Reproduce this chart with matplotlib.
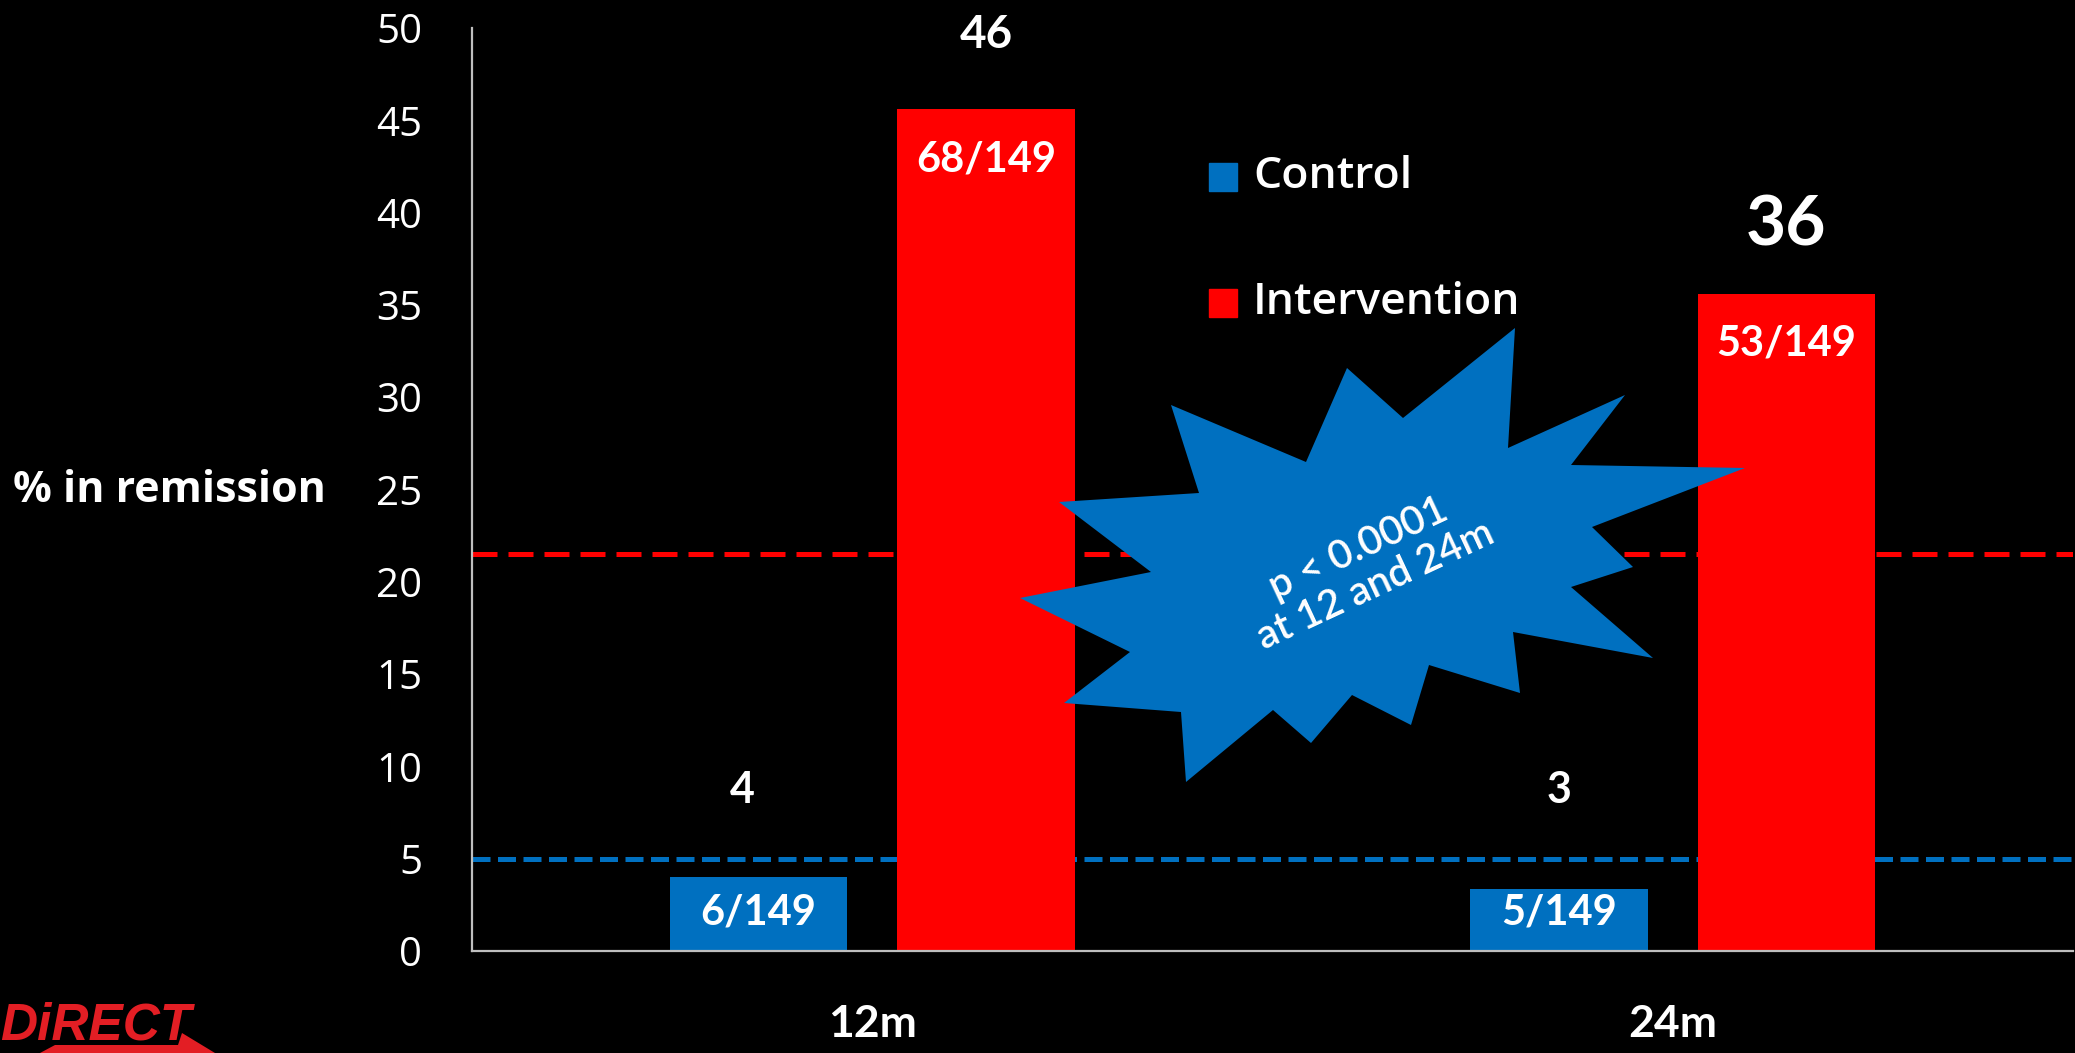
import matplotlib
matplotlib.use("Agg")
import matplotlib.pyplot as plt
from matplotlib.patches import Polygon, Rectangle

# data
periods = ["12m", "24m"]
groups = ["Control", "Intervention"]
control_pct = [4.03, 3.36]
intervention_pct = [45.6, 35.6]
control_rounded = ["4", "3"]
intervention_rounded = ["46", "36"]
control_counts = ["6/149", "5/149"]
intervention_counts = ["68/149", "53/149"]
control_ref = 5.0
intervention_ref = 21.5
yticks = [0, 5, 10, 15, 20, 25, 30, 35, 40, 45, 50]

BLUE = "#0070C0"
RED = "#FF0000"
W, H = 2075, 1053

plt.rcParams["font.family"] = ["Lato", "DejaVu Sans"]
WIDE = ["Open Sans", "DejaVu Sans"]

fig = plt.figure(figsize=(W / 100, H / 100), dpi=100, facecolor="black")
ax = fig.add_axes([472 / W, 102 / H, (2073 - 472) / W, 923 / H], facecolor="black")

x = [0, 1]
width = 0.222
off = 0.142
cx = [i - off for i in x]
ix = [i + off for i in x]

ax.axhline(control_ref, color=BLUE, lw=3.6, dashes=(3.6, 1.5), zorder=1)
ax.axhline(intervention_ref, color=RED, lw=3.6, dashes=(5.0, 2.2), zorder=1)

ax.bar(cx, control_pct, width, color=BLUE, zorder=2)
ax.bar(ix, intervention_pct, width, color=RED, zorder=2)

# labels on bars
for i in range(2):
    ax.text(cx[i] - 0.02 * (1 - i), 8.7, control_rounded[i], ha="center", va="center",
            color="white", fontsize=31, fontweight="bold", zorder=5)
    ax.text(cx[i], 2.1, control_counts[i], ha="center", va="center",
            color="white", fontsize=30, fontweight="bold", zorder=5)
    ax.text(ix[i], intervention_pct[i] - 2.7, intervention_counts[i], ha="center",
            va="center", color="white", fontsize=30, fontweight="bold", zorder=5)
ax.text(ix[0], intervention_pct[0] + 4.0, intervention_rounded[0], ha="center",
        va="center", color="white", fontsize=33, fontweight="bold", zorder=5)
ax.text(ix[1], intervention_pct[1] + 3.7, intervention_rounded[1], ha="center",
        va="center", color="white", fontsize=50, fontweight="bold", zorder=5)

ax.set_xlim(-0.5, 1.5)
ax.set_ylim(0, 50)
ax.set_yticks(yticks)
ax.set_yticklabels([str(t) for t in yticks], color="white", fontsize=29, family=WIDE)
ax.set_xticks(x)
ax.set_xticklabels(periods, color="white", fontsize=32, fontweight="bold")
ax.tick_params(axis="y", length=0, pad=36)
ax.tick_params(axis="x", length=0, pad=38)
for s in ["top", "right"]:
    ax.spines[s].set_visible(False)
for s in ["left", "bottom"]:
    ax.spines[s].set_color("#BFBFBF")
    ax.spines[s].set_linewidth(1.6)

fig.text(13 / W, 1 - 490 / H, "% in remission", ha="left", va="center",
         color="white", fontsize=31, fontweight="bold", family=WIDE)

# legend
for k, (lab, col) in enumerate(zip(groups, [BLUE, RED])):
    yc = [177, 303][k]
    fig.add_artist(Rectangle((1209 / W, 1 - (yc + 14) / H), 28 / W, 28 / H,
                             transform=fig.transFigure, color=col))
    fig.text(1253 / W, 1 - yc / H, lab, ha="left", va="center", color="white",
             fontsize=32, fontweight="semibold", family=WIDE)

# starburst annotation
star = [(1515, 328), (1508, 448), (1625, 395), (1571, 465), (1745, 468),
        (1592, 527), (1633, 567), (1571, 587), (1653, 658), (1513, 632),
        (1520, 693), (1429, 665), (1411, 725), (1352, 695), (1311, 743),
        (1273, 710), (1186, 782), (1181, 712), (1064, 703), (1130, 652),
        (1020, 598), (1151, 572), (1059, 502), (1199, 493), (1171, 405),
        (1306, 462), (1347, 368), (1403, 418)]
fig.add_artist(Polygon([(px / W, 1 - py / H) for px, py in star], closed=True,
                       transform=fig.transFigure, facecolor=BLUE, edgecolor="none",
                       zorder=3))
fig.text(1367 / W, 1 - 567 / H, "p < 0.0001\nat 12 and 24m", ha="center",
         va="center", rotation=25, rotation_mode="anchor", color="white",
         fontsize=29, fontweight="semibold", linespacing=1.15, zorder=4)

# logo
fig.add_artist(Polygon([(40 / W, 0), (55 / W, 8 / H), (178 / W, 8 / H),
                        (182 / W, 20 / H), (215 / W, 0)], closed=True,
                       transform=fig.transFigure, facecolor="#E31E24",
                       edgecolor="none"))
fig.text(0, 1 - 1026 / H, "DiRECT", ha="left", va="center", color="#E31E24",
         fontsize=37, fontweight="heavy", fontstyle="italic",
         family=["Liberation Sans Narrow", "Liberation Sans", "DejaVu Sans"])

fig.savefig("out.png", dpi=100, facecolor="black")
